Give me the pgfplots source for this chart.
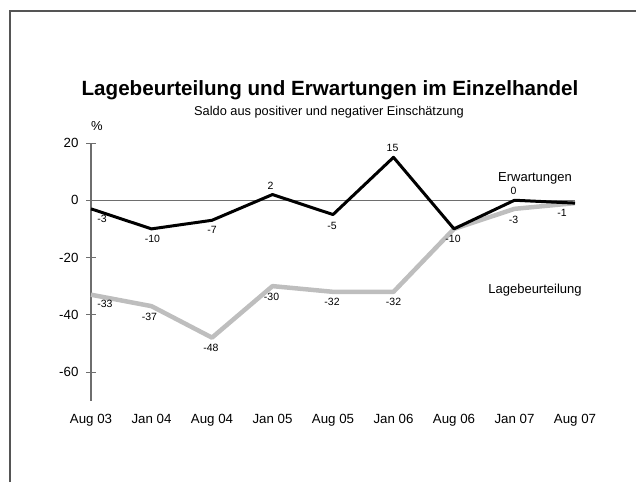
\documentclass[border=0pt]{standalone}
\usepackage{fontspec}
\setmainfont{Liberation Sans}
\usepackage{pgfplots}
\pgfplotsset{compat=1.18}
\usepackage{pgfplotstable}

\definecolor{framegray}{HTML}{555555}
\definecolor{lagegray}{HTML}{BEBEBE}
\definecolor{axisgray}{HTML}{6E6E6E}

% Erwartungen: value, label, label offset (dx, dy in pt)
\pgfplotstableread{
x y lbl dx dy
0 -3 -3 11 -10
1 -10 -10 1 -10
2 -7 -7 0 -10
3 2 2 -2 9
4 -5 -5 -1 -11
5 15 15 -1 9
6 -10 -10 -1 -10
7 0 0 -1 9
8 -1 -1 -13 -10
}\erw

% Lagebeurteilung
\pgfplotstableread{
x y lbl dx dy
0 -33 -33 14 -9
1 -37 -37 -2 -11
2 -48 -48 -1 -10
3 -30 -30 -1 -11
4 -32 -32 -1 -10
5 -32 -32 0 -10
6 -10 {} 0 0
7 -3 -3 -1 -11
8 -1 {} 0 0
}\lage

\begin{document}
\begin{tikzpicture}
\path[use as bounding box] (0,0) rectangle (636pt,482pt);
\draw[framegray, line width=2pt] (9.5pt,0) -- (9.5pt,471pt) -- (636pt,471pt);

\node[font=\bfseries\fontsize{20.6}{22}\selectfont] at (330pt,392pt) {Lagebeurteilung und Erwartungen im Einzelhandel};
\node[font=\fontsize{12.8}{14}\selectfont] at (329pt,370pt) {Saldo aus positiver und negativer Einschätzung};
\node[font=\fontsize{13}{15}\selectfont] at (97pt,356pt) {\%};

\begin{axis}[
    at={(91pt,81.4pt)}, anchor=south west,
    scale only axis,
    width=484pt, height=257.6pt,
    xmin=0, xmax=8, ymin=-70, ymax=20,
    clip=false,
    axis lines*=left,
    x axis line style={draw=none},
    y axis line style={axisgray, line width=1.3pt},
    xtick=data,
    xticklabels={Aug 03, Jan 04, Aug 04, Jan 05, Aug 05, Jan 06, Aug 06, Jan 07, Aug 07},
    xtick style={draw=none},
    ytick={-60,-40,-20,0,20},
    ytick style={axisgray, line width=0.8pt},
    tick align=center,
    major tick length=10pt,
    extra y ticks={0},
    extra y tick labels={},
    extra y tick style={grid=major, major grid style={axisgray, line width=0.9pt}},
    tick label style={font=\fontsize{13.3}{15}\selectfont},
    /pgf/number format/assume math mode=true,
    x tick label style={yshift=-5pt},
    y tick label style={xshift=-4pt},
    nodes near coords,
    point meta=explicit symbolic,
    visualization depends on={\thisrow{dx}\as\dx},
    visualization depends on={\thisrow{dy}\as\dy},
    nodes near coords style={anchor=center, text=black,
        font=\fontsize{10.5}{12}\selectfont,
        xshift=\dx pt, yshift=\dy pt},
]
\addplot[lagegray, line width=4.5pt, line join=round, mark=none]
    table[x=x, y=y, meta=lbl] {\lage};
\addplot[black, line width=3pt, line join=round, mark=none]
    table[x=x, y=y, meta=lbl] {\erw};
\end{axis}

\node[font=\fontsize{13}{15}\selectfont] at (535pt,304pt) {Erwartungen};
\node[font=\fontsize{13}{15}\selectfont] at (535pt,192pt) {Lagebeurteilung};
\end{tikzpicture}
\end{document}
